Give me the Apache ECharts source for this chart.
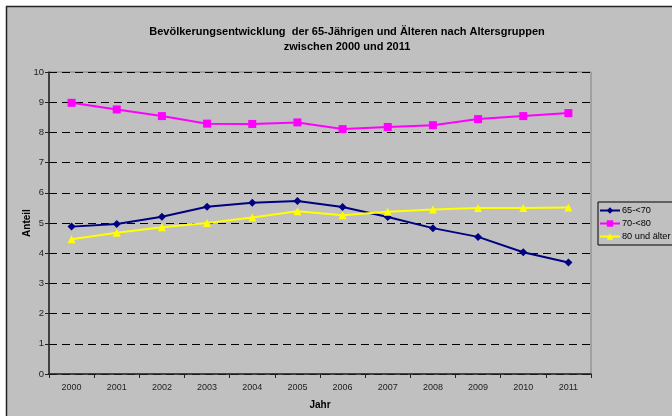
<!DOCTYPE html>
<html>
<head>
<meta charset="utf-8">
<script src="https://cdn.jsdelivr.net/npm/echarts@6/dist/echarts.min.js"></script>
<style>
html,body{margin:0;padding:0;background:#fff;}
#c{width:672px;height:416px;}
</style>
</head>
<body>
<div id="c"></div>
<script>
var years = ['2000','2001','2002','2003','2004','2005','2006','2007','2008','2009','2010','2011'];
var s65 = [4.88, 4.97, 5.21, 5.54, 5.67, 5.73, 5.53, 5.20, 4.83, 4.54, 4.03, 3.69];
var s70 = [8.98, 8.76, 8.54, 8.29, 8.28, 8.33, 8.11, 8.18, 8.24, 8.44, 8.54, 8.64];
var s80 = [4.46, 4.68, 4.86, 5.00, 5.18, 5.39, 5.26, 5.37, 5.45, 5.50, 5.50, 5.51];
var seriesNames = ['65-<70', '70-<80', '80 und älter'];
var yTicks = [0,1,2,3,4,5,6,7,8,9,10];

var font = 'Liberation Sans, Arial, sans-serif';
var chart = echarts.init(document.getElementById('c'), null, {renderer:'canvas'});
chart.setOption({
  backgroundColor: '#ffffff',
  animation: false,
  graphic: [{
    type: 'rect', z: -100, silent: true,
    shape: {x: 6.5, y: 6.5, width: 700, height: 420},
    style: {fill: '#c0c0c0', stroke: '#222', lineWidth: 1.5}
  }],
  title: {
    text: 'Bevölkerungsentwicklung  der 65-Jährigen und Älteren nach Altersgruppen\nzwischen 2000 und 2011',
    left: 342, top: 19, textAlign: 'center',
    textStyle: {fontFamily: font, fontSize: 11, fontWeight: 'bold', color: '#000', lineHeight: 15}
  },
  legend: {
    left: 598, top: 202, orient: 'vertical',
    itemWidth: 20, itemHeight: 8, itemGap: 4,
    padding: [4, 6, 4, 1],
    borderColor: '#000', borderWidth: 1, backgroundColor: '#c0c0c0',
    textStyle: {fontFamily: font, fontSize: 9.2, color: '#000', padding: [0,0,0,-3]},
    data: seriesNames
  },
  grid: {left: 49, right: 81, top: 72, bottom: 42, show: true, borderColor: '#808080', borderWidth: 1, backgroundColor: 'transparent'},
  xAxis: {
    type: 'category', data: years, boundaryGap: true,
    name: 'Jahr', nameLocation: 'middle', nameGap: 26, nameMoveOverlap: false,
    nameTextStyle: {fontFamily: font, fontSize: 10, fontWeight: 'bold', color: '#000'},
    axisLine: {lineStyle: {color: '#222', width: 1.5}},
    axisTick: {show: true, length: 4, lineStyle: {color: '#222'}},
    axisLabel: {fontFamily: font, fontSize: 9, color: '#222', margin: 9},
    splitLine: {show: false}
  },
  yAxis: {
    type: 'value', min: 0, max: 10, interval: 1,
    name: 'Anteil', nameLocation: 'middle', nameGap: 17, nameRotate: 90, nameMoveOverlap: false,
    nameTextStyle: {fontFamily: font, fontSize: 10, fontWeight: 'bold', color: '#000'},
    axisLine: {show: true, lineStyle: {color: '#222', width: 1.5}},
    axisTick: {show: true, length: 4, lineStyle: {color: '#222'}},
    axisLabel: {fontFamily: font, fontSize: 9.5, color: '#222', margin: 5,
      formatter: function(v){ return yTicks.indexOf(v) >= 0 ? String(v) : ''; }},
    splitLine: {show: true, lineStyle: {color: '#000', type: [8, 5], width: 1}}
  },
  series: [
    {name: seriesNames[0], type: 'line', data: s65, symbol: 'diamond', symbolSize: 8,
      lineStyle: {color: '#000080', width: 2}, itemStyle: {color: '#000080'}},
    {name: seriesNames[1], type: 'line', data: s70, symbol: 'rect', symbolSize: 8,
      lineStyle: {color: '#ff00ff', width: 2}, itemStyle: {color: '#ff00ff'}},
    {name: seriesNames[2], type: 'line', data: s80, symbol: 'triangle', symbolSize: 8,
      lineStyle: {color: '#ffff00', width: 2}, itemStyle: {color: '#ffff00'}}
  ]
});
</script>
</body>
</html>
